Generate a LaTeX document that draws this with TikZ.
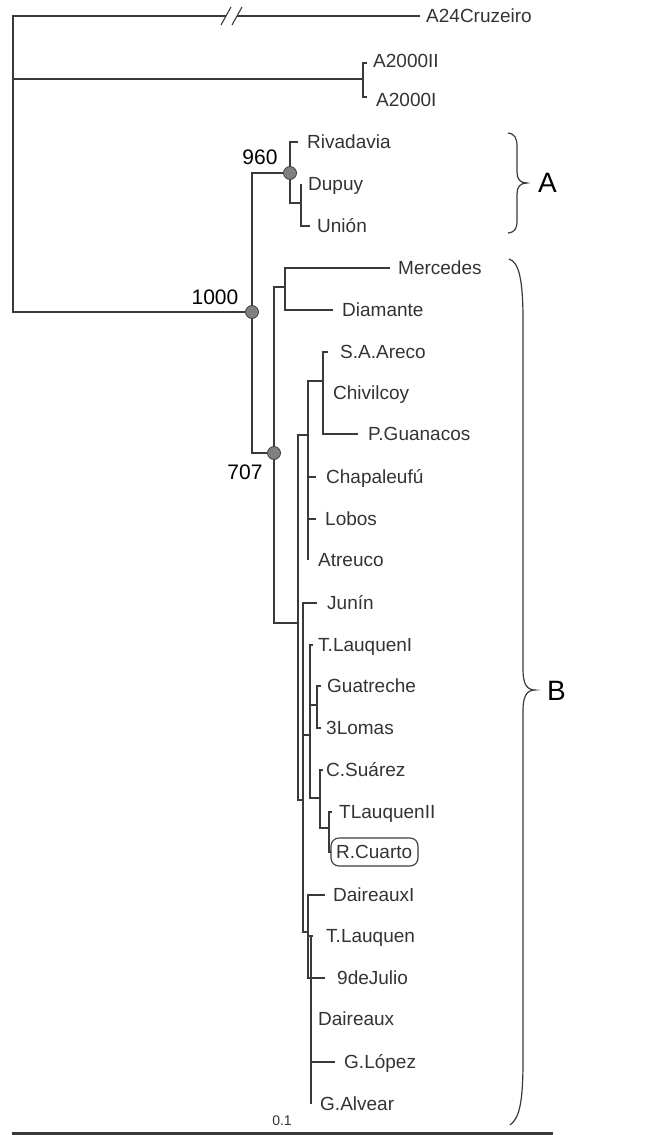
\documentclass[tikz,border=0pt]{standalone}
\usepackage{fontspec}
\setmainfont{Liberation Sans}
\definecolor{ln}{HTML}{3A3A3A}
\definecolor{tx}{HTML}{333333}
\begin{document}
\begin{tikzpicture}[x=1pt,y=-1pt,
  br/.style={draw=ln, line width=1.5pt},
  leaf/.style={anchor=west, inner sep=0pt, text=tx, text height=13.6pt, text depth=0pt, font=\fontsize{19}{21}\selectfont},
  boot/.style={circle, inner sep=0pt, minimum size=13pt, fill=black!50, draw=black!75, line width=0.8pt},
  bootlbl/.style={inner sep=0pt, text=black, text height=15pt, text depth=0pt, font=\fontsize{21}{23}\selectfont},
  grp/.style={inner sep=0pt, text=black, text height=20pt, text depth=0pt, anchor=west, font=\fontsize{28}{30}\selectfont},
  brace/.style={draw=ln, line width=1.2pt}
  ]
\useasboundingbox (0,0) rectangle (662,1135);

% ---------- internal nodes ----------
\coordinate (root) at (13,79);
\coordinate (nA2000) at (363,79);
\coordinate (n1000) at (252,312);
\coordinate (n960) at (290,173);
\coordinate (nDU) at (301,203);
\coordinate (n707) at (274,453);
\coordinate (nMD) at (285,287);
\coordinate (nC) at (298,623);
\coordinate (nAr) at (308,435);
\coordinate (nSA) at (323,381);
\coordinate (nJ) at (303,800);
\coordinate (nTL) at (310,735);
\coordinate (nGu) at (317,705);
\coordinate (nCS) at (320,798);
\coordinate (nRC) at (329,828);
\coordinate (nDx) at (308,932);
\coordinate (nDy) at (311,937);

% ---------- branch tips ----------
\coordinate (tA24a) at (226,16);
\coordinate (tA24b) at (237,16);
\coordinate (tA24) at (420,16);
\coordinate (tA2II) at (367,63);
\coordinate (tA2I) at (367,97);
\coordinate (tRiv) at (298,142);
\coordinate (tDup) at (301,184);
\coordinate (tUni) at (310,226);
\coordinate (tMer) at (390,268);
\coordinate (tDia) at (333,310);
\coordinate (tSAA) at (328,352);
\coordinate (tChi) at (323,393);
\coordinate (tPG) at (358,434);
\coordinate (tCha) at (316,477);
\coordinate (tLob) at (316,519);
\coordinate (tAtr) at (308,560);
\coordinate (tJun) at (317,603);
\coordinate (tTLI) at (313,645);
\coordinate (tGua) at (321,686);
\coordinate (t3L) at (321,728);
\coordinate (tCSu) at (323,770);
\coordinate (tTL2) at (332,812);
\coordinate (tRC) at (331,852);
\coordinate (tDI) at (325,895);
\coordinate (tTLq) at (313,936);
\coordinate (t9J) at (325,978);
\coordinate (tDa) at (311,1019);
\coordinate (tGL) at (335,1062);
\coordinate (tGA) at (311,1104);

% ---------- branches ----------
\draw[br, line width=1.8pt] (root) |- (tA24a);
\draw[br, line width=1.1pt] (tA24b) -- (tA24);
\draw[br, line width=1.1pt] (221,25) -- (231,7);
\draw[br, line width=1.1pt] (232,25) -- (242,7);
\draw[br, line width=1.8pt] (root) |- (nA2000);
\draw[br, line width=1.8pt] (root) |- (n1000);
\draw[br] (nA2000) |- (tA2II);
\draw[br] (nA2000) |- (tA2I);

\draw[br] (n1000) |- (n960);
\draw[br] (n1000) |- (n707);
\draw[br] (n960) |- (tRiv);
\draw[br] (n960) |- (nDU);
\draw[br] (nDU) |- (tDup);
\draw[br] (nDU) |- (tUni);

\draw[br] (n707) |- (nMD);
\draw[br] (n707) |- (nC);
\draw[br] (nMD) |- (tMer);
\draw[br] (nMD) |- (tDia);

\draw[br] (nC) |- (nAr);
\draw[br] (nC) |- (nJ);
\draw[br] (nAr) |- (nSA);
\draw[br] (nAr) |- (tCha);
\draw[br] (nAr) |- (tLob);
\draw[br] (nAr) |- (tAtr);
\draw[br] (nSA) |- (tSAA);
\draw[br] (nSA) |- (tChi);
\draw[br] (nSA) |- (tPG);

\draw[br] (nJ) |- (tJun);
\draw[br] (nJ) |- (nTL);
\draw[br] (nJ) |- (nDx);
\draw[br] (nTL) |- (tTLI);
\draw[br] (nTL) |- (nGu);
\draw[br] (nTL) |- (nCS);
\draw[br] (nGu) |- (tGua);
\draw[br] (nGu) |- (t3L);
\draw[br] (nCS) |- (tCSu);
\draw[br] (nCS) |- (nRC);
\draw[br] (nRC) |- (tTL2);
\draw[br] (nRC) |- (tRC);

\draw[br] (nDx) |- (tDI);
\draw[br] (nDx) |- (tTLq);
\draw[br] (nDx) |- (t9J);
\draw[br] (nDy) |- (tDa);
\draw[br] (nDy) |- (tGL);
\draw[br] (nDy) |- (tGA);

% ---------- bootstrap nodes ----------
\node[boot] (b960) at (n960) {};
\node[boot] (b1000) at (n1000) {};
\node[boot] (b707) at (n707) {};
\node[bootlbl] (l960) at (260,157) {960};
\node[bootlbl] (l1000) at (215,297) {1000};
\node[bootlbl] (l707) at (245,472) {707};

% ---------- leaf labels ----------
\node[leaf] (A24) at (426,16) {A24Cruzeiro};
\node[leaf] (A2II) at (373,61) {A2000II};
\node[leaf] (A2I) at (376,100) {A2000I};
\node[leaf] (Riv) at (307,142) {Rivadavia};
\node[leaf] (Dup) at (308,184) {Dupuy};
\node[leaf] (Uni) at (317,226) {Unión};
\node[leaf] (Mer) at (398,268) {Mercedes};
\node[leaf] (Dia) at (342,310) {Diamante};
\node[leaf] (SAA) at (340,352) {S.A.Areco};
\node[leaf] (Chi) at (333,393) {Chivilcoy};
\node[leaf] (PG) at (368,434) {P.Guanacos};
\node[leaf] (Cha) at (326,477) {Chapaleufú};
\node[leaf] (Lob) at (325,519) {Lobos};
\node[leaf] (Atr) at (318,560) {Atreuco};
\node[leaf] (Jun) at (327,603) {Junín};
\node[leaf] (TLI) at (318,645) {T.LauquenI};
\node[leaf] (Gua) at (327,686) {Guatreche};
\node[leaf] (L3) at (326,728) {3Lomas};
\node[leaf] (CSu) at (326,770) {C.Suárez};
\node[leaf] (TL2) at (339,812) {TLauquenII};
\node[leaf] (RC) at (336,852) {R.Cuarto};
\node[leaf] (DI) at (333,895) {DaireauxI};
\node[leaf] (TLq) at (326,936) {T.Lauquen};
\node[leaf] (J9) at (337,978) {9deJulio};
\node[leaf] (Da) at (318,1019) {Daireaux};
\node[leaf] (GL) at (344,1062) {G.López};
\node[leaf] (GA) at (320,1104) {G.Alvear};

\draw[draw=ln, line width=1.1pt, rounded corners=8pt] (331,838) rectangle (418,866);

% ---------- braces ----------
\draw[brace] (508,133) .. controls (515,134) and (517,138) .. (517,147) -- (517,172)
  .. controls (517,179) and (520,183) .. (527,183)
  .. controls (520,183) and (517,187) .. (517,194) -- (517,220)
  .. controls (517,229) and (515,232) .. (508,233);
\node[grp] (gA) at (538,182) {A};
\draw[brace] (509,259) .. controls (519,262) and (523,280) .. (523,320) -- (523,670)
  .. controls (523,684) and (527,690) .. (535,690)
  .. controls (527,690) and (523,696) .. (523,710) -- (523,1060)
  .. controls (523,1100) and (520,1118) .. (510,1125);
\node[grp] (gB) at (547,690) {B};

% ---------- scale bar ----------
\coordinate (sb1) at (12,1133);
\coordinate (sb2) at (553,1133);
\draw[draw=ln, line width=3pt] (sb1) -- (sb2);
\node[inner sep=0pt, text=tx, font=\fontsize{14}{16}\selectfont] (sbl) at (282,1121) {0.1};
\end{tikzpicture}
\end{document}
